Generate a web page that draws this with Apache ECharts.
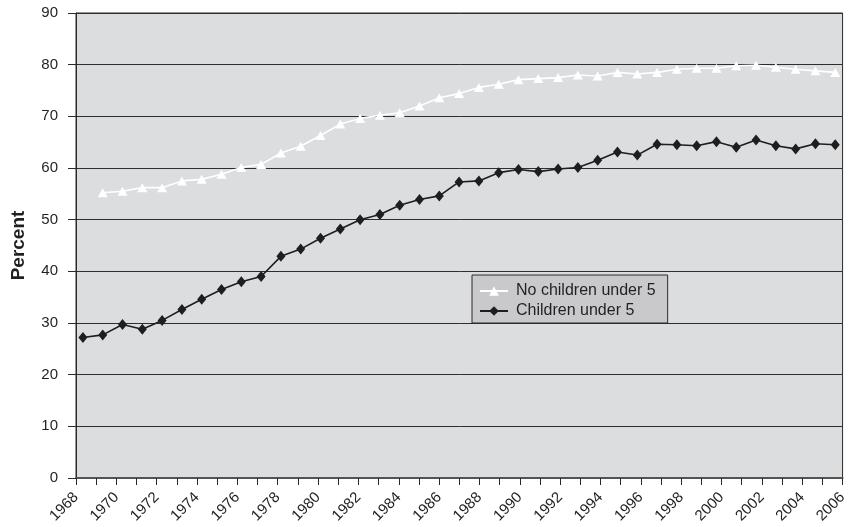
<!DOCTYPE html>
<html>
<head>
<meta charset="utf-8">
<title>Percent by year</title>
<script src="https://cdn.jsdelivr.net/npm/echarts@6/dist/echarts.min.js"></script>
<style>
  html, body { margin: 0; padding: 0; background: #ffffff; }
  #chart { width: 850px; height: 527px; }
</style>
</head>
<body>
<div id="chart"></div>
<script>
// Years observed, one point per year
const years = [
  1968, 1969, 1970, 1971, 1972, 1973, 1974, 1975, 1976, 1977,
  1978, 1979, 1980, 1981, 1982, 1983, 1984, 1985, 1986, 1987,
  1988, 1989, 1990, 1991, 1992, 1993, 1994, 1995, 1996, 1997,
  1998, 1999, 2000, 2001, 2002, 2003, 2004, 2005, 2006
];

// No children under 5 (no reading for the first year)
const noChildrenUnder5 = [
  null, 55.2, 55.5, 56.2, 56.2, 57.5, 57.8, 58.8, 60.1, 60.7,
  62.9, 64.2, 66.3, 68.5, 69.6, 70.2, 70.7, 72.0, 73.6, 74.4,
  75.6, 76.2, 77.1, 77.3, 77.5, 78.0, 77.8, 78.5, 78.2, 78.5,
  79.1, 79.3, 79.3, 79.8, 79.9, 79.5, 79.1, 78.8, 78.5
];

// Children under 5
const childrenUnder5 = [
  27.2, 27.7, 29.7, 28.8, 30.5, 32.6, 34.6, 36.5, 38.0, 39.0,
  42.9, 44.3, 46.4, 48.2, 50.0, 51.0, 52.8, 53.9, 54.6, 57.3,
  57.5, 59.1, 59.7, 59.3, 59.8, 60.1, 61.5, 63.1, 62.5, 64.6,
  64.5, 64.3, 65.1, 64.0, 65.4, 64.3, 63.7, 64.7, 64.5
];

// Year labels shown under the axis (every other year)
const yearTickLabels = [
  1968, 1970, 1972, 1974, 1976, 1978, 1980, 1982, 1984, 1986,
  1988, 1990, 1992, 1994, 1996, 1998, 2000, 2002, 2004, 2006
];

const percentTicks = { min: 0, max: 90, step: 10 };

const FONT = '"Liberation Sans", Arial, Helvetica, sans-serif';
const INK = '#231f20';

const pairs = (vals) => years.map((y, i) => [y, vals[i]]);

const chart = echarts.init(document.getElementById('chart'), null, { renderer: 'canvas' });

chart.setOption({
  animation: false,
  backgroundColor: '#ffffff',
  textStyle: { fontFamily: FONT, color: INK },
  grid: {
    left: 76, right: 4, top: 13, bottom: 49,
    show: true,
    backgroundColor: '#dcdddf',
    borderColor: '#2a2a2a',
    borderWidth: 1
  },
  legend: {
    orient: 'vertical',
    left: 472,
    top: 275,
    padding: [8, 12, 4, 7],
    itemWidth: 28,
    itemHeight: 12,
    itemGap: 4,
    backgroundColor: '#c9c9cb',
    borderColor: '#2a2a2a',
    borderWidth: 1,
    borderRadius: 0,
    textStyle: { fontFamily: FONT, fontSize: 16, color: INK, padding: [0, 0, 0, 3] },
    data: ['No children under 5', 'Children under 5']
  },
  xAxis: [
    {
      // tick and label axis
      type: 'value',
      min: 1968,
      max: 2006,
      interval: 1,
      position: 'bottom',
      axisLine: { show: true, lineStyle: { color: '#555555', width: 2 } },
      axisTick: { show: true, length: 7, lineStyle: { color: '#2a2a2a', width: 1 } },
      splitLine: { show: false },
      axisLabel: {
        rotate: 45,
        margin: 17,
        fontSize: 15,
        fontFamily: FONT,
        color: INK,
        showMinLabel: true,
        showMaxLabel: true,
        hideOverlap: false,
        formatter: (v) => (yearTickLabels.includes(v) ? String(v) : '')
      }
    },
    {
      // plotting axis: points sit slightly inside the first and last tick
      type: 'value',
      min: 1967.65,
      max: 2006.37,
      show: false
    }
  ],
  yAxis: {
    type: 'value',
    min: percentTicks.min,
    max: percentTicks.max,
    interval: percentTicks.step,
    name: 'Percent',
    nameLocation: 'middle',
    nameGap: 48,
    nameTextStyle: { fontFamily: FONT, fontSize: 19, fontWeight: 'bold', color: INK },
    axisLine: { show: true, lineStyle: { color: '#2a2a2a', width: 1 } },
    axisTick: { show: true, inside: false, length: 8, lineStyle: { color: '#2a2a2a', width: 1 } },
    axisLabel: { margin: 18, fontSize: 15, fontFamily: FONT, color: INK },
    splitLine: { show: true, lineStyle: { color: '#2e2e2e', width: 1 } }
  },
  series: [
    {
      name: 'No children under 5',
      type: 'line',
      xAxisIndex: 1,
      data: pairs(noChildrenUnder5),
      symbol: 'triangle',
      symbolSize: [10, 9],
      showAllSymbol: true,
      connectNulls: false,
      lineStyle: { color: '#ffffff', width: 1.6 },
      itemStyle: { color: '#ffffff', borderColor: '#ffffff', borderWidth: 0 },
      z: 3
    },
    {
      name: 'Children under 5',
      type: 'line',
      xAxisIndex: 1,
      data: pairs(childrenUnder5),
      symbol: 'diamond',
      symbolSize: [9, 11],
      showAllSymbol: true,
      lineStyle: { color: '#1e1e1e', width: 1.6 },
      itemStyle: { color: '#1e1e1e', borderColor: '#1e1e1e', borderWidth: 0 },
      z: 4
    }
  ]
});
</script>
</body>
</html>
